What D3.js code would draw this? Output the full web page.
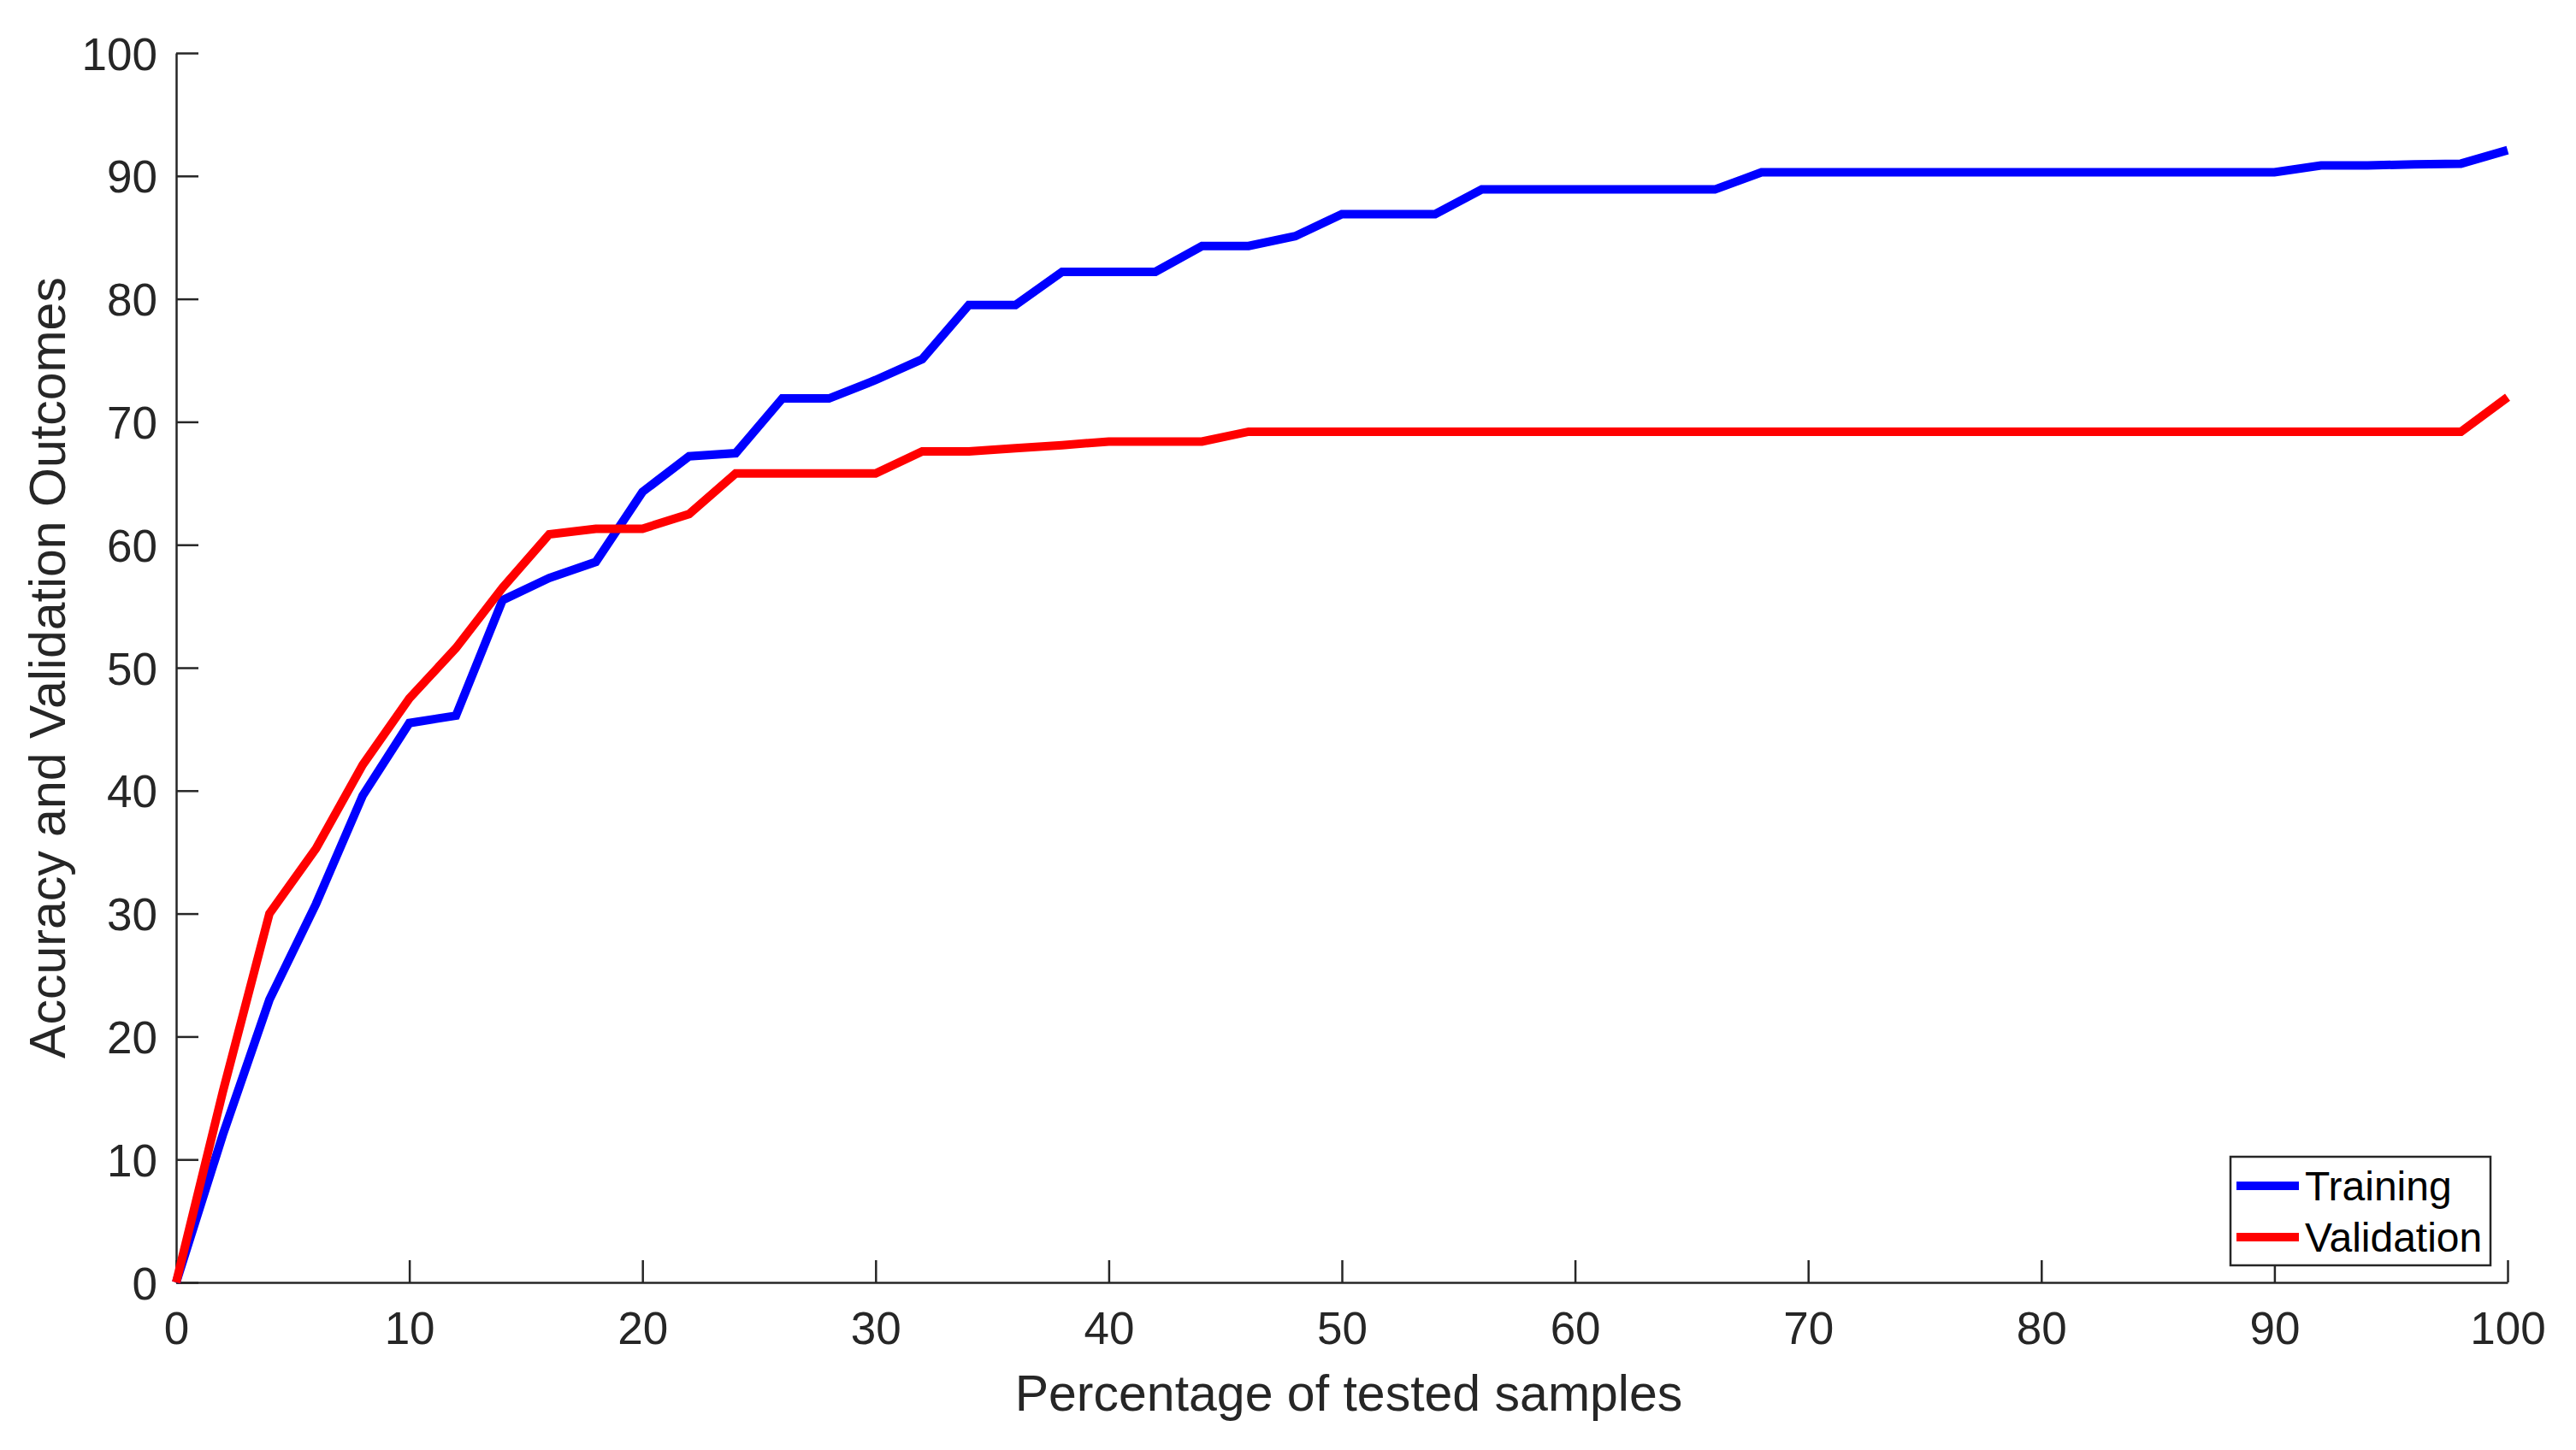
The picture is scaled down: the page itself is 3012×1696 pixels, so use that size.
<!DOCTYPE html>
<html>
<head>
<meta charset="utf-8">
<script src="https://cdn.jsdelivr.net/npm/d3@7"></script>
<style>
  html, body { margin: 0; padding: 0; background: #fff; }
  svg { display: block; }
</style>
</head>
<body>
<svg id="chart" width="3012" height="1696"></svg>
<script>
// ---- Data ----
const xValues = [0,2,4,6,8,10,12,14,16,18,20,22,24,26,28,30,32,34,36,38,40,42,44,46,48,50,52,54,56,58,60,62,64,66,68,70,72,74,76,78,80,82,84,86,88,90,92,94,96,98,100];
const training = [0,12,23,30.8,39.6,45.5,46.1,55.5,57.3,58.6,64.3,67.2,67.45,71.9,71.9,73.4,75.1,79.5,79.5,82.2,82.2,82.2,84.3,84.3,85.1,86.9,86.9,86.9,88.9,88.9,88.9,88.9,88.9,88.9,90.3,90.3,90.3,90.3,90.3,90.3,90.3,90.3,90.3,90.3,90.3,90.3,90.85,90.85,90.95,91.0,92.1];
const validation = [0,15.5,30,35.3,42.1,47.5,51.6,56.5,60.85,61.3,61.3,62.5,65.8,65.8,65.8,65.8,67.6,67.6,67.85,68.1,68.4,68.4,68.4,69.2,69.2,69.2,69.2,69.2,69.2,69.2,69.2,69.2,69.2,69.2,69.2,69.2,69.2,69.2,69.2,69.2,69.2,69.2,69.2,69.2,69.2,69.2,69.2,69.2,69.2,69.2,72.0];
const xTicks = [0,10,20,30,40,50,60,70,80,90,100];
const yTicks = [0,10,20,30,40,50,60,70,80,90,100];
const seriesNames = ["Training", "Validation"];
const seriesColors = ["#0000ff", "#ff0000"];
const xLabel = "Percentage of tested samples";
const yLabel = "Accuracy and Validation Outcomes";

// ---- Layout ----
const plotLeft = 206, plotRight = 2932, plotTop = 62, plotBottom = 1500;
const axisColor = "#262626";
const font = "'Liberation Sans', Arial, Helvetica, sans-serif";

const svg = d3.select("#chart");
const x = d3.scaleLinear().domain([0, 100]).range([plotLeft, plotRight]);
const y = d3.scaleLinear().domain([0, 100]).range([plotBottom, plotTop]);

// Axes (MATLAB style: ticks inward)
const xAxis = d3.axisBottom(x).tickValues(xTicks).tickSizeInner(-26).tickSizeOuter(0).tickPadding(34);
const yAxis = d3.axisLeft(y).tickValues(yTicks).tickSizeInner(-26).tickSizeOuter(0).tickPadding(22);

const gx = svg.append("g").attr("transform", `translate(0,${plotBottom})`).call(xAxis);
const gy = svg.append("g").attr("transform", `translate(${plotLeft},0)`).call(yAxis);

[gx, gy].forEach(g => {
  g.select(".domain").attr("stroke", axisColor).attr("stroke-width", 2.5);
  g.selectAll(".tick line").attr("stroke", axisColor).attr("stroke-width", 2.5);
  g.selectAll(".tick text").attr("fill", axisColor).attr("font-family", font).attr("font-size", 53);
});
gx.selectAll(".tick text").attr("dy", "0.71em");
gy.selectAll(".tick text").attr("dy", "0.36em");

// Lines
const line = d3.line().x((d, i) => x(xValues[i])).y(d => y(d));
[training, validation].forEach((s, k) => {
  svg.append("path")
    .datum(s)
    .attr("fill", "none")
    .attr("stroke", seriesColors[k])
    .attr("stroke-width", 10)
    .attr("stroke-linejoin", "miter")
    .attr("d", line);
});

// Axis titles
svg.append("text")
  .attr("x", 1577)
  .attr("y", 1650)
  .attr("text-anchor", "middle")
  .attr("font-family", font)
  .attr("font-size", 59)
  .attr("fill", axisColor)
  .text(xLabel);

svg.append("text")
  .attr("transform", `translate(76,${(plotTop + plotBottom) / 2}) rotate(-90)`)
  .attr("text-anchor", "middle")
  .attr("font-family", font)
  .attr("font-size", 59)
  .attr("fill", axisColor)
  .text(yLabel);

// Legend
const lg = svg.append("g");
lg.append("rect")
  .attr("x", 2608).attr("y", 1353).attr("width", 304).attr("height", 127)
  .attr("fill", "#fff").attr("stroke", axisColor).attr("stroke-width", 2.5);
const legendY = [1387, 1447];
seriesNames.forEach((name, k) => {
  lg.append("line")
    .attr("x1", 2615).attr("x2", 2688)
    .attr("y1", legendY[k]).attr("y2", legendY[k])
    .attr("stroke", seriesColors[k]).attr("stroke-width", 10);
  lg.append("text")
    .attr("x", 2695).attr("y", legendY[k])
    .attr("dy", "0.36em")
    .attr("font-family", font)
    .attr("font-size", 48)
    .attr("fill", "#000")
    .text(name);
});
</script>
</body>
</html>
